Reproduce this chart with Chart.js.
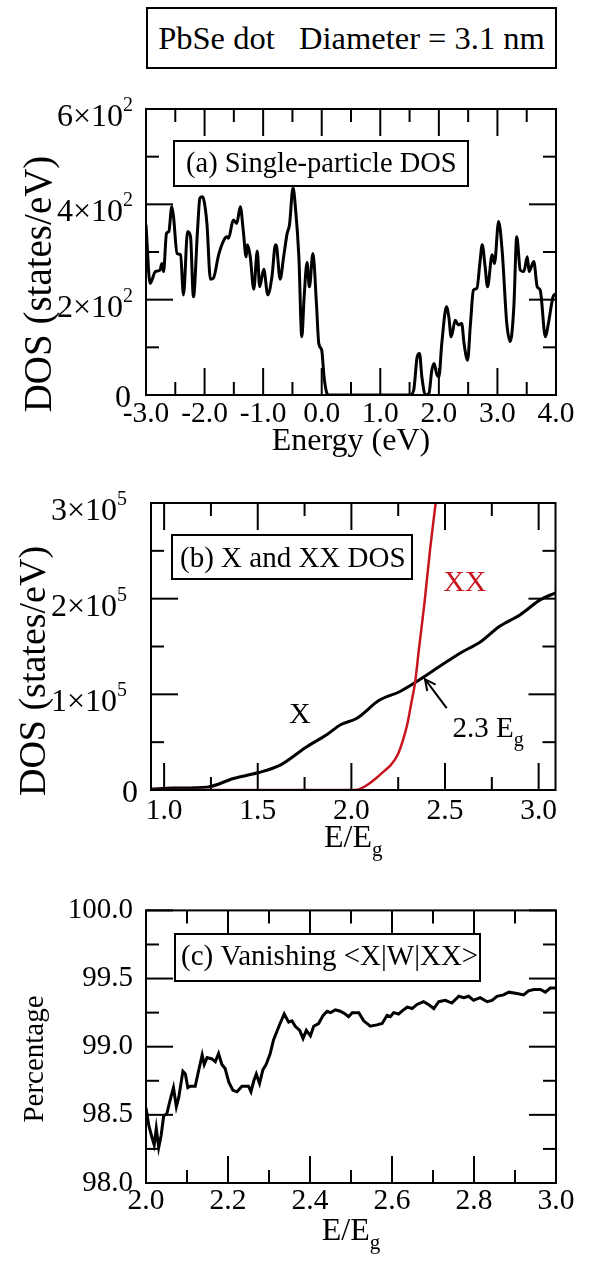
<!DOCTYPE html>
<html><head><meta charset="utf-8">
<script src="https://cdn.jsdelivr.net/npm/chart.js@4"></script>
<style>
html,body{margin:0;padding:0;background:#fff}
body{width:591px;height:1273px;position:relative;overflow:hidden}
canvas{position:absolute;left:0}
#title{position:absolute;left:146px;top:7px;width:407px;height:58px;border:2px solid #000;
 font:32.5px 'Liberation Serif','Times New Roman',serif;white-space:pre;text-align:center;line-height:58px;color:#000}
</style></head><body>
<div id="title">PbSe dot   Diameter = 3.1 nm</div>
<canvas id="ca" width="591" height="400" style="top:80px"></canvas>
<canvas id="cb" width="591" height="400" style="top:480px"></canvas>
<canvas id="cc" width="591" height="393" style="top:880px"></canvas>
<script>
// ---------------- DATA ----------------
// (a) single-particle DOS
const energyA = [-3.0,-2.93,-2.84,-2.76,-2.73,-2.70,-2.65,-2.61,-2.56,-2.53,-2.47,-2.41,-2.36,-2.29,-2.24,-2.19,-2.12,-2.08,-2.04,-2.02,-1.96,-1.90,-1.85,-1.76,-1.67,-1.62,-1.59,-1.51,-1.45,-1.39,-1.34,-1.29,-1.27,-1.22,-1.16,-1.10,-1.06,-0.99,-0.92,-0.85,-0.79,-0.77,-0.71,-0.65,-0.59,-0.55,-0.49,-0.45,-0.39,-0.34,-0.30,-0.25,-0.21,-0.15,-0.09,-0.05,0.0,0.04,0.09,0.12,1.51,1.57,1.63,1.67,1.71,1.77,1.83,1.88,1.92,1.96,2.00,2.05,2.13,2.17,2.21,2.28,2.33,2.39,2.43,2.49,2.54,2.59,2.65,2.70,2.74,2.79,2.83,2.91,2.95,3.02,3.08,3.16,3.22,3.28,3.33,3.39,3.45,3.51,3.54,3.62,3.68,3.73,3.82,3.87,3.95,4.0];
const dosA = [357,234,259,262,276,259,339,343,395,374,297,294,210,343,332,206,346,413,416,413,360,243,245,294,325,332,329,367,360,395,346,290,315,290,222,302,227,264,210,248,315,311,243,290,339,357,435,395,290,122,206,278,227,297,192,108,94,38,3,0,0,10,80,87,38,0,3,52,66,45,38,108,185,164,122,157,147,150,108,73,150,220,224,276,315,269,227,294,276,364,304,150,112,185,332,262,259,290,259,280,227,220,122,150,206,213];
const xTicksA = [-3,-2,-1,0,1,2,3,4];
const xTickLabelsA = ['-3.0','-2.0','-1.0','0.0','1.0','2.0','3.0','4.0'];
const yTicksA = [0,200,400,600];
const yMantA = ['0','2','4','6'];
const yExpA = '2';

// (b) exciton (X) and biexciton (XX) DOS
const xX = [0.93,1.05,1.23,1.37,1.50,1.62,1.76,1.87,1.94,2.03,2.15,2.26,2.37,2.47,2.58,2.69,2.79,2.90,3.01,3.09];
const dosX = [1000,2000,3000,12000,18000,26000,45000,58000,68000,75000,94000,103000,116000,129000,143000,155000,171000,183000,199000,206000];
const xXX = [0.93,2.02,2.05,2.09,2.13,2.17,2.21,2.25,2.28,2.30,2.32,2.34,2.36,2.39,2.42,2.45,2.47];
const dosXX = [0,0,1500,6000,12000,19000,26000,38000,55000,70000,91000,112000,146000,195000,251000,300000,335000];
const xTicksB = [1.0,1.5,2.0,2.5,3.0];
const xTickLabelsB = ['1.0','1.5','2.0','2.5','3.0'];
const yTicksB = [0,100000,200000,300000];
const yMantB = ['0','1','2','3'];
const yExpB = '5';

// (c) vanishing <X|W|XX> percentage
const xC = [2.000,2.007,2.015,2.020,2.025,2.031,2.037,2.043,2.051,2.059,2.067,2.074,2.080,2.090,2.096,2.102,2.108,2.120,2.128,2.137,2.142,2.149,2.161,2.169,2.177,2.185,2.193,2.202,2.212,2.222,2.234,2.250,2.256,2.263,2.269,2.277,2.285,2.293,2.303,2.311,2.319,2.327,2.337,2.348,2.356,2.364,2.375,2.383,2.391,2.401,2.409,2.421,2.432,2.442,2.450,2.462,2.474,2.486,2.494,2.503,2.519,2.531,2.547,2.563,2.576,2.588,2.596,2.604,2.616,2.628,2.637,2.649,2.661,2.677,2.689,2.702,2.714,2.730,2.746,2.763,2.775,2.787,2.799,2.815,2.832,2.844,2.856,2.872,2.885,2.905,2.921,2.933,2.946,2.962,2.974,2.986,3.000];
const pctC = [98.55,98.42,98.33,98.28,98.40,98.26,98.35,98.49,98.51,98.61,98.70,98.56,98.63,98.82,98.80,98.70,98.71,98.71,98.82,98.94,98.87,98.92,98.91,98.89,98.95,98.87,98.84,98.74,98.68,98.67,98.71,98.71,98.67,98.75,98.80,98.73,98.83,98.87,98.95,99.05,99.11,99.17,99.24,99.18,99.19,99.15,99.12,99.06,99.12,99.08,99.15,99.17,99.23,99.26,99.25,99.27,99.26,99.24,99.22,99.25,99.25,99.19,99.15,99.16,99.17,99.23,99.22,99.25,99.24,99.27,99.29,99.28,99.31,99.33,99.31,99.28,99.33,99.34,99.32,99.37,99.36,99.37,99.34,99.36,99.33,99.34,99.37,99.38,99.40,99.39,99.38,99.41,99.42,99.42,99.40,99.43,99.43];
const xTicksC = [2.0,2.2,2.4,2.6,2.8,3.0];
const xTickLabelsC = ['2.0','2.2','2.4','2.6','2.8','3.0'];
const yTicksC = [98.0,98.5,99.0,99.5,100.0];
const yTickLabelsC = ['98.0','98.5','99.0','99.5','100.0'];

// ---------------- HELPERS ----------------
const FONT = "'Liberation Serif','Times New Roman',serif";
const RED = '#c8141e';
function pts(xs, ys){ return xs.map((x,i)=>({x:x, y:ys[i]})); }
function text(ctx, s, x, y, size, align, color){
  ctx.font = size + 'px ' + FONT; ctx.fillStyle = color || '#000';
  ctx.textAlign = align || 'left'; ctx.textBaseline = 'alphabetic'; ctx.fillText(s, x, y);
}
function subText(ctx, main, sub, x, y, size, subSize, drop, align, color){
  ctx.font = size + 'px ' + FONT; const w1 = ctx.measureText(main).width;
  ctx.font = subSize + 'px ' + FONT; const w2 = ctx.measureText(sub).width;
  let x0 = x; if (align === 'center') x0 = x - (w1 + w2)/2;
  text(ctx, main, x0, y, size, 'left', color);
  text(ctx, sub, x0 + w1, y + drop, subSize, 'left', color);
}
function rotText(ctx, s, x, y, size){
  ctx.save(); ctx.translate(x, y); ctx.rotate(-Math.PI/2);
  text(ctx, s, 0, 0, size, 'center'); ctx.restore();
}
function labelBox(ctx, s, x0, y0, x1, y1, tx, ty, size){
  ctx.fillStyle = '#fff'; ctx.fillRect(x0, y0, x1-x0, y1-y0);
  ctx.strokeStyle = '#000'; ctx.lineWidth = 2; ctx.strokeRect(x0, y0, x1-x0, y1-y0);
  text(ctx, s, tx, ty, size, 'left');
}
function supLabels(ctx, yScale, ticks, mants, exp, rightExp, rightZero, size, supSize){
  ticks.forEach((v,i)=>{
    const py = yScale.getPixelForValue(v);
    if (mants[i] === '0'){ text(ctx, '0', rightZero, py + 12, size, 'right'); return; }
    ctx.font = supSize + 'px ' + FONT; const ew = ctx.measureText(exp).width;
    text(ctx, mants[i] + '\u00d710', rightExp - ew, py + 17, size, 'right');
    text(ctx, exp, rightExp - ew, py + 2, supSize, 'left');
  });
}
function frameTicks(chart, xMinor, yMinor){
  const {ctx, chartArea:a, scales:{x, y}} = chart;
  ctx.save(); ctx.strokeStyle = '#000'; ctx.lineWidth = 2; ctx.lineCap = 'butt';
  const seg = (x0,y0,x1,y1)=>{ ctx.beginPath(); ctx.moveTo(x0,y0); ctx.lineTo(x1,y1); ctx.stroke(); };
  const MAJ = 27, MIN = 13;
  for (let k = Math.ceil(x.min/xMinor - 1e-6); k <= Math.floor(x.max/xMinor + 1e-6); k++){
    const px = x.getPixelForValue(k*xMinor), L = (k % 2 === 0) ? MAJ : MIN;
    seg(px, a.bottom, px, a.bottom - L); seg(px, a.top, px, a.top + L);
  }
  for (let k = Math.ceil(y.min/yMinor - 1e-6); k <= Math.floor(y.max/yMinor + 1e-6); k++){
    const py = y.getPixelForValue(k*yMinor), L = (k % 2 === 0) ? MAJ : MIN;
    seg(a.left, py, a.left + L, py); seg(a.right, py, a.right - L, py);
  }
  ctx.strokeRect(a.left, a.top, a.right - a.left, a.bottom - a.top);
  ctx.restore();
}
function xAxis(min, max, ticks, labels, axisH, pad){
  return { type:'linear', min:min, max:max,
    afterBuildTicks: s => { s.ticks = ticks.map(v => ({value:v})); },
    afterFit: s => { s.height = axisH; },
    grid:{display:false, drawTicks:false, tickLength:0}, border:{display:false},
    ticks:{ autoSkip:false, maxRotation:0, padding:pad, color:'#000', font:{family:FONT, size:29.5},
      callback:(v,i) => labels[i] } };
}
function yAxis(min, max, ticks, labels, axisW, showLabels){
  return { type:'linear', min:min, max:max,
    afterBuildTicks: s => { s.ticks = ticks.map(v => ({value:v})); },
    afterFit: s => { s.width = axisW; },
    grid:{display:false, drawTicks:false, tickLength:0}, border:{display:false},
    ticks:{ display:showLabels, autoSkip:false, padding:13, color:'#000', font:{family:FONT, size:29},
      callback:(v,i) => labels ? labels[i] : '' } };
}
function baseOpts(padTop, padRight, scales){
  return { responsive:false, animation:false, devicePixelRatio:1,
    layout:{padding:{top:padTop, right:padRight, left:0, bottom:0}},
    plugins:{legend:{display:false}, tooltip:{enabled:false}, title:{display:false}},
    elements:{point:{radius:0}}, scales:scales };
}

// ---------------- PANEL (a) ----------------
new Chart(document.getElementById('ca'), {
  type:'line',
  data:{ datasets:[{ data:pts(energyA, dosA), borderColor:'#000', borderWidth:3,
    cubicInterpolationMode:'monotone', pointRadius:0 }] },
  options: baseOpts(29, 35, { x:xAxis(-3, 4, xTicksA, xTickLabelsA, 85, 2), y:yAxis(0, 600, yTicksA, null, 146, false) }),
  plugins:[{ id:'decoA', afterDatasetsDraw(chart){
    const ctx = chart.ctx, y = chart.scales.y, a = chart.chartArea;
    frameTicks(chart, 0.5, 100);
    ctx.save();
    labelBox(ctx, '(a) Single-particle DOS', a.left+28, 61, a.left+322, 106, a.left+40, 92, 28.5);
    supLabels(ctx, y, yTicksA, yMantA, yExpA, 133, 131, 32, 20);
    rotText(ctx, 'DOS (states/eV)', 51, 204, 39);
    text(ctx, 'Energy (eV)', (a.left+a.right)/2, 370, 32, 'center');
    ctx.restore();
  }}]
});

// ---------------- PANEL (b) ----------------
new Chart(document.getElementById('cb'), {
  type:'line',
  data:{ datasets:[
    { data:pts(xXX, dosXX), borderColor:RED, borderWidth:2.5, cubicInterpolationMode:'monotone', pointRadius:0 },
    { data:pts(xX, dosX), borderColor:'#000', borderWidth:3, cubicInterpolationMode:'monotone', pointRadius:0 } ] },
  options: baseOpts(23, 35.5, { x:xAxis(0.93, 3.09, xTicksB, xTickLabelsB, 90, 4), y:yAxis(0, 300000, yTicksB, null, 151, false) }),
  plugins:[{ id:'decoB', afterDatasetsDraw(chart){
    const ctx = chart.ctx, x = chart.scales.x, y = chart.scales.y, a = chart.chartArea;
    frameTicks(chart, 0.25, 50000);
    ctx.save();
    labelBox(ctx, '(b) X and XX DOS', a.left+21, 55, a.left+261, 99, a.left+29, 87, 29);
    supLabels(ctx, y, yTicksB, yMantB, yExpB, 127, 138, 32, 20);
    rotText(ctx, 'DOS (states/eV)', 45, 191, 38);
    subText(ctx, 'E/E', 'g', (a.left+a.right)/2, 367, 32, 21, 9, 'center');
    // curve labels
    text(ctx, 'XX', x.getPixelForValue(2.606), y.getPixelForValue(220000)+11, 30, 'center', RED);
    text(ctx, 'X', x.getPixelForValue(1.725), y.getPixelForValue(81600)+11, 30, 'center');
    subText(ctx, '2.3 E', 'g', x.getPixelForValue(2.54), y.getPixelForValue(55000), 29, 20, 9, 'left');
    // arrow to crossing
    const tx = x.getPixelForValue(2.393), ty = y.getPixelForValue(115800);
    const sx = x.getPixelForValue(2.509), sy = y.getPixelForValue(85500);
    ctx.strokeStyle = '#000'; ctx.lineWidth = 2;
    ctx.beginPath(); ctx.moveTo(sx, sy); ctx.lineTo(tx, ty); ctx.stroke();
    const ang = Math.atan2(sy-ty, sx-tx), L = 12, sp = 0.45;
    ctx.beginPath();
    ctx.moveTo(tx + L*Math.cos(ang+sp), ty + L*Math.sin(ang+sp)); ctx.lineTo(tx, ty);
    ctx.lineTo(tx + L*Math.cos(ang-sp), ty + L*Math.sin(ang-sp)); ctx.stroke();
    ctx.restore();
  }}]
});

// ---------------- PANEL (c) ----------------
new Chart(document.getElementById('cc'), {
  type:'line',
  data:{ datasets:[{ data:pts(xC, pctC), borderColor:'#000', borderWidth:3, tension:0, pointRadius:0 }] },
  options: baseOpts(18, 35, { x:xAxis(2.0, 3.0, xTicksC, xTickLabelsC, 90, 1), y:yAxis(98, 100, yTicksC, yTickLabelsC, 146, true) }),
  plugins:[{ id:'decoC', afterDatasetsDraw(chart){
    const ctx = chart.ctx, a = chart.chartArea;
    frameTicks(chart, 0.1, 0.25);
    ctx.save();
    labelBox(ctx, '(c) Vanishing <X|W|XX>', a.left+29, 54, a.left+334, 101, a.left+35, 85, 29);
    rotText(ctx, 'Percentage', 43, 179, 29);
    subText(ctx, 'E/E', 'g', (a.left+a.right)/2, 360, 32, 21, 9, 'center');
    ctx.restore();
  }}]
});
</script>
</body></html>
